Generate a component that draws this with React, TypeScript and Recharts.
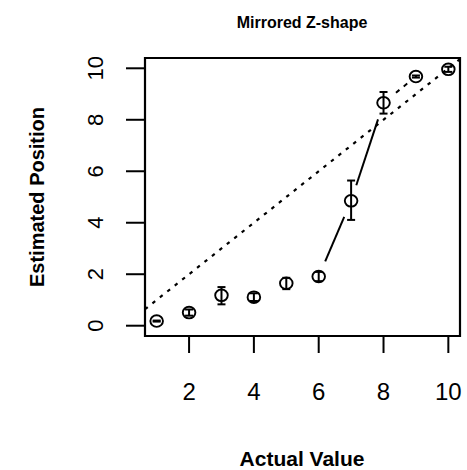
import React from 'react';
import {
  ComposedChart,
  Scatter,
  XAxis,
  YAxis,
  ErrorBar,
  ReferenceLine,
  ReferenceArea,
} from 'recharts';

// ---- data ----
const actualValues = [1, 2, 3, 4, 5, 6, 7, 8, 9, 10];
const estimatedPositions = [0.18, 0.51, 1.18, 1.11, 1.65, 1.91, 4.85, 8.66, 9.68, 9.96];
const errorLower = [0.02, 0.12, 0.35, 0.15, 0.23, 0.18, 0.74, 0.42, 0.04, 0.1];
const errorUpper = [0.02, 0.12, 0.32, 0.15, 0.21, 0.18, 0.79, 0.42, 0.04, 0.1];
const xTicks = [2, 4, 6, 8, 10];
const yTicks = [0, 2, 4, 6, 8, 10];
const solidLinks = [[6, 7], [7, 8]];
const dashedLinks = [[8, 9]];
const identityIntercept = 0;
const identitySlope = 1;
const chartTitle = 'Mirrored Z-shape';
const xTitle = 'Actual Value';
const yTitle = 'Estimated Position';

// ---- layout ----
const W = 467;
const H = 470;
const X_DOMAIN: [number, number] = [0.64, 10.36];
const Y_DOMAIN: [number, number] = [-0.4, 10.4];
const FONT = '"Liberation Sans", Arial, Helvetica, sans-serif';

const data = actualValues.map((x, i) => ({
  x,
  y: estimatedPositions[i],
  err: [errorLower[i], errorUpper[i]],
}));

const pointAt = (x: number) => ({ x, y: estimatedPositions[actualValues.indexOf(x)] });

const gapShape = (g1: number, g2: number, dash?: string) => (props: any) => {
  const { x1, y1, x2, y2 } = props;
  const dx = x2 - x1;
  const dy = y2 - y1;
  const L = Math.hypot(dx, dy);
  if (!isFinite(L) || L <= g1 + g2) return <g />;
  const ux = dx / L;
  const uy = dy / L;
  return (
    <line
      x1={x1 + ux * g1}
      y1={y1 + uy * g1}
      x2={x2 - ux * g2}
      y2={y2 - uy * g2}
      stroke="#000"
      strokeWidth={2}
      strokeDasharray={dash}
    />
  );
};

const OpenCircle = (props: any) => {
  const { cx, cy } = props;
  return <ellipse cx={cx} cy={cy} rx={6.3} ry={5.8} fill="none" stroke="#000" strokeWidth={1.9} />;
};

const XTick = (props: any) => {
  const { x, y, payload } = props;
  return (
    <text x={x} y={y + 45} textAnchor="middle" fontSize={24} fontFamily={FONT} fill="#000">
      {payload.value}
    </text>
  );
};

const YTick = (props: any) => {
  const { y, payload } = props;
  return (
    <text
      transform={`translate(103, ${y}) rotate(-90)`}
      textAnchor="middle"
      fontSize={22}
      fontFamily={FONT}
      fill="#000"
    >
      {payload.value}
    </text>
  );
};

export default function App() {
  return (
    <div style={{ position: 'absolute', left: 0, top: 0, width: W, height: H, background: '#fff' }}>
      <ComposedChart
        width={W}
        height={H}
        data={data}
        margin={{ top: 58, right: 7, bottom: 0, left: 0 }}
      >
        <XAxis
          type="number"
          dataKey="x"
          domain={X_DOMAIN}
          ticks={xTicks}
          allowDataOverflow
          axisLine={false}
          tickSize={17}
          tickLine={{ stroke: '#000', strokeWidth: 2 }}
          tick={<XTick />}
          height={134}
          interval={0}
        />
        <YAxis
          type="number"
          dataKey="y"
          domain={Y_DOMAIN}
          ticks={yTicks}
          allowDataOverflow
          axisLine={false}
          tickSize={19}
          tickLine={{ stroke: '#000', strokeWidth: 2 }}
          tick={<YTick />}
          width={145}
          interval={0}
        />
        <ReferenceArea
          x1={X_DOMAIN[0]}
          x2={X_DOMAIN[1]}
          y1={Y_DOMAIN[0]}
          y2={Y_DOMAIN[1]}
          fill="none"
          stroke="#000"
          strokeWidth={2.2}
          ifOverflow="visible"
        />
        <ReferenceLine
          segment={[
            { x: X_DOMAIN[0], y: identityIntercept + identitySlope * X_DOMAIN[0] },
            { x: X_DOMAIN[1], y: identityIntercept + identitySlope * X_DOMAIN[1] },
          ]}
          stroke="#000"
          strokeWidth={2.2}
          strokeDasharray="3.5 6"
          ifOverflow="visible"
        />
        {solidLinks.map(([a, b]) => (
          <ReferenceLine
            key={`s${a}`}
            segment={[pointAt(a), pointAt(b)]}
            ifOverflow="visible"
            shape={gapShape(16.5, 17.5)}
          />
        ))}
        {dashedLinks.map(([a, b]) => (
          <ReferenceLine
            key={`d${a}`}
            segment={[pointAt(a), pointAt(b)]}
            ifOverflow="visible"
            shape={gapShape(16, 9, '4.5 5.5')}
          />
        ))}
        <Scatter dataKey="y" shape={<OpenCircle />} isAnimationActive={false}>
          <ErrorBar dataKey="err" direction="y" width={4} stroke="#000" strokeWidth={2} isAnimationActive={false} />
        </Scatter>
      </ComposedChart>
      <svg
        width={W}
        height={H}
        style={{ position: 'absolute', left: 0, top: 0, pointerEvents: 'none' }}
      >
        <text x={302} y={28} textAnchor="middle" fontSize={16} fontWeight="bold" fontFamily={FONT} fill="#000">
          {chartTitle}
        </text>
        <text x={302} y={466} textAnchor="middle" fontSize={21} fontWeight="bold" fontFamily={FONT} fill="#000">
          {xTitle}
        </text>
        <text
          transform="translate(44, 197) rotate(-90)"
          textAnchor="middle"
          fontSize={20}
          fontWeight="bold"
          fontFamily={FONT}
          fill="#000"
        >
          {yTitle}
        </text>
      </svg>
    </div>
  );
}
